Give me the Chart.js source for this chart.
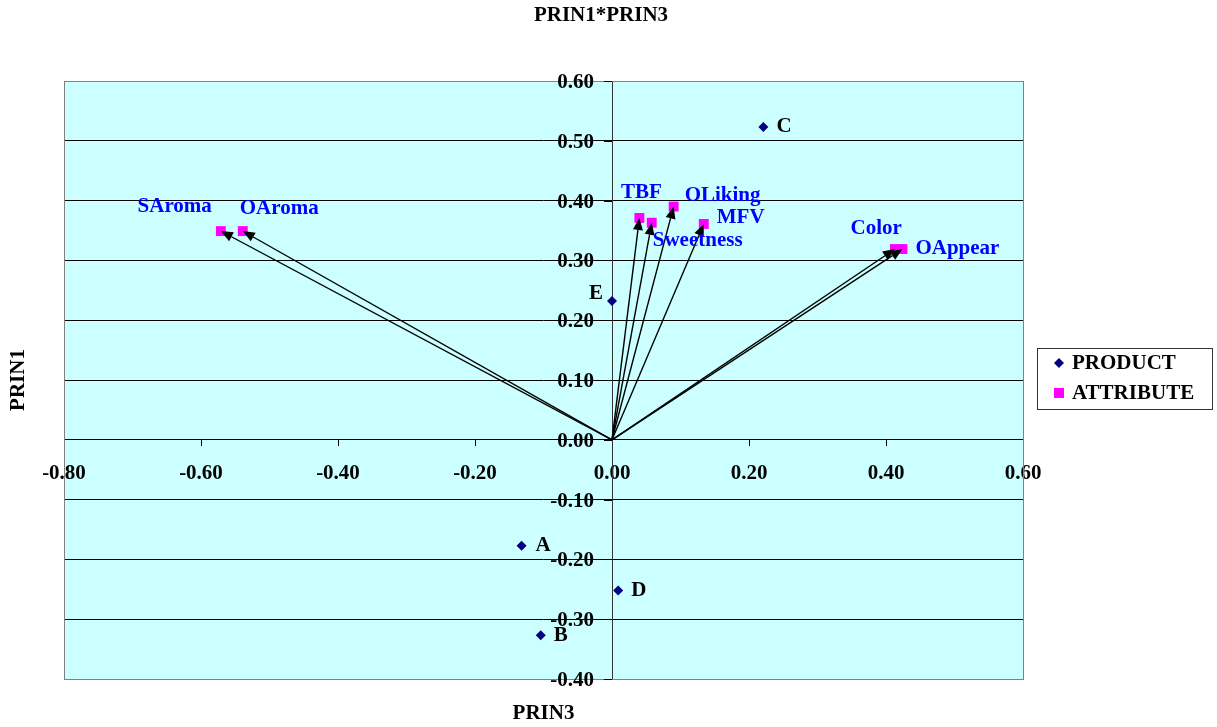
<!DOCTYPE html>
<html>
<head>
<meta charset="utf-8">
<title>PRIN1*PRIN3</title>
<script src="https://cdn.jsdelivr.net/npm/chart.js@4.4.1/dist/chart.umd.min.js"></script>
<style>
  html, body { margin: 0; padding: 0; background: #fff; }
  #wrap { position: relative; width: 1217px; height: 727px; }
</style>
</head>
<body>
<div id="wrap"><canvas id="biplot" width="1217" height="727"></canvas></div>
<script>
// --- Data ---
const productLabels = ['A', 'B', 'C', 'D', 'E'];
const productX = [-0.132, -0.104, 0.221, 0.009, 0.000];
const productY = [-0.177, -0.327, 0.523, -0.252, 0.232];

const attrLabels = ['SAroma', 'OAroma', 'TBF', 'Sweetness', 'OLiking', 'MFV', 'Color', 'OAppear'];
const attrX = [-0.571, -0.539, 0.040, 0.058, 0.090, 0.134, 0.413, 0.424];
const attrY = [0.349, 0.349, 0.371, 0.363, 0.390, 0.361, 0.319, 0.319];

const seriesNames = ['PRODUCT', 'ATTRIBUTE'];
const xTicks = [-0.8, -0.6, -0.4, -0.2, 0.0, 0.2, 0.4, 0.6];
const yTicks = [-0.4, -0.3, -0.2, -0.1, 0.0, 0.1, 0.2, 0.3, 0.4, 0.5, 0.6];

// --- Label placement (pixel offsets from the marker) ---
const labelPos = {
    A: { dx: 14, dy: 0, align: 'left' },
    B: { dx: 13, dy: 0, align: 'left' },
    C: { dx: 13, dy: 0, align: 'left' },
    D: { dx: 13, dy: 0, align: 'left' },
    E: { dx: -9, dy: -7, align: 'right' },
    SAroma: { dx: -9, dy: -25, align: 'right' },
    OAroma: { dx: -3, dy: -23, align: 'left' },
    TBF: { dx: 2, dy: -25, align: 'center' },
    Sweetness: { dx: 1, dy: 18, align: 'left' },
    OLiking: { dx: 11, dy: -11, align: 'left' },
    MFV: { dx: 13, dy: -6, align: 'left' },
    Color: { dx: 7, dy: -20, align: 'right' },
    OAppear: { dx: 13, dy: 0, align: 'left' }
};

const FONT = "'Liberation Serif', 'Times New Roman', serif";
const FONT_SIZE = 21;
const BOLD = 'bold ' + FONT_SIZE + 'px ' + FONT;
const PLOT_BG = '#ccffff';
const PRODUCT_COLOR = '#000080';
const ATTR_COLOR = '#ff00ff';
const ATTR_TEXT = '#0000ff';

function toPoints(xs, ys) {
    return xs.map((x, i) => ({ x: x, y: ys[i] }));
}

// --- Plugins ---
const plotBackground = {
    id: 'plotBackground',
    beforeDraw(chart) {
        const { ctx, chartArea: a } = chart;
        ctx.save();
        ctx.fillStyle = PLOT_BG;
        ctx.fillRect(a.left, a.top, a.right - a.left, a.bottom - a.top);
        ctx.restore();
    },
    afterDraw(chart) {
        const { ctx, chartArea: a } = chart;
        ctx.save();
        ctx.strokeStyle = '#808080';
        ctx.lineWidth = 1;
        ctx.strokeRect(Math.round(a.left) + 0.5, Math.round(a.top) + 0.5,
            Math.round(a.right - a.left), Math.round(a.bottom - a.top));
        ctx.restore();
    }
};

// y tick marks and labels sit left of the x = 0 axis
const yAxisLabels = {
    id: 'yAxisLabels',
    afterDraw(chart) {
        const { ctx, scales: { x, y } } = chart;
        const ox = Math.round(x.getPixelForValue(0));
        ctx.save();
        ctx.strokeStyle = '#000';
        ctx.lineWidth = 1;
        ctx.fillStyle = '#000';
        ctx.font = BOLD;
        ctx.textAlign = 'right';
        ctx.textBaseline = 'middle';
        y.ticks.forEach(t => {
            const py = Math.round(y.getPixelForValue(t.value)) + 0.5;
            ctx.beginPath();
            ctx.moveTo(ox - 8, py);
            ctx.lineTo(ox, py);
            ctx.stroke();
            ctx.fillText(t.value.toFixed(2), ox - 18, py + 1);
        });
        ctx.restore();
    }
};

const arrowsAndLabels = {
    id: 'arrowsAndLabels',
    afterDatasetsDraw(chart) {
        const { ctx, scales: { x, y } } = chart;
        const ox = x.getPixelForValue(0);
        const oy = y.getPixelForValue(0);
        ctx.save();

        // arrows from the origin to every attribute
        ctx.strokeStyle = '#000';
        ctx.fillStyle = '#000';
        ctx.lineWidth = 1.4;
        attrX.forEach((v, i) => {
            const px = x.getPixelForValue(v);
            const py = y.getPixelForValue(attrY[i]);
            const ang = Math.atan2(py - oy, px - ox);
            const len = 12, half = 5;
            const bx = px - len * Math.cos(ang);
            const by = py - len * Math.sin(ang);
            ctx.beginPath();
            ctx.moveTo(ox, oy);
            ctx.lineTo(bx, by);
            ctx.stroke();
            ctx.beginPath();
            ctx.moveTo(px, py);
            ctx.lineTo(bx + half * Math.sin(ang), by - half * Math.cos(ang));
            ctx.lineTo(bx - half * Math.sin(ang), by + half * Math.cos(ang));
            ctx.closePath();
            ctx.fill();
        });

        // point labels
        ctx.font = BOLD;
        ctx.textBaseline = 'middle';
        const drawLabel = (txt, vx, vy, color) => {
            const p = labelPos[txt];
            ctx.fillStyle = color;
            ctx.textAlign = p.align;
            ctx.fillText(txt, x.getPixelForValue(vx) + p.dx, y.getPixelForValue(vy) + p.dy);
        };
        productLabels.forEach((t, i) => drawLabel(t, productX[i], productY[i], '#000'));
        attrLabels.forEach((t, i) => drawLabel(t, attrX[i], attrY[i], ATTR_TEXT));
        ctx.restore();
    }
};

const titlesAndLegend = {
    id: 'titlesAndLegend',
    afterDraw(chart) {
        const { ctx, chartArea: a } = chart;
        ctx.save();
        ctx.fillStyle = '#000';
        ctx.font = BOLD;
        ctx.textAlign = 'center';
        ctx.textBaseline = 'middle';
        ctx.fillText('PRIN1*PRIN3', 601, 16);
        ctx.fillText('PRIN3', (a.left + a.right) / 2, 714);
        ctx.save();
        ctx.translate(19, (a.top + a.bottom) / 2);
        ctx.rotate(-Math.PI / 2);
        ctx.fillText('PRIN1', 0, 0);
        ctx.restore();

        // legend box
        ctx.strokeStyle = '#333';
        ctx.lineWidth = 1;
        ctx.strokeRect(1037.5, 348.5, 175, 61);
        ctx.textAlign = 'left';
        // diamond
        ctx.fillStyle = PRODUCT_COLOR;
        ctx.beginPath();
        ctx.moveTo(1059, 358);
        ctx.lineTo(1064, 363);
        ctx.lineTo(1059, 368);
        ctx.lineTo(1054, 363);
        ctx.closePath();
        ctx.fill();
        // square
        ctx.fillStyle = ATTR_COLOR;
        ctx.fillRect(1054, 388, 10, 10);
        ctx.fillStyle = '#000';
        ctx.fillText(seriesNames[0], 1072, 364);
        ctx.fillText(seriesNames[1], 1072, 394);
        ctx.restore();
    }
};

// --- Chart ---
const ctx = document.getElementById('biplot').getContext('2d');
new Chart(ctx, {
    type: 'scatter',
    data: {
        datasets: [{
            label: seriesNames[0],
            data: toPoints(productX, productY),
            pointStyle: 'rectRot',
            pointRadius: 5,
            pointHoverRadius: 5,
            backgroundColor: PRODUCT_COLOR,
            borderColor: PRODUCT_COLOR,
            borderWidth: 0
        }, {
            label: seriesNames[1],
            data: toPoints(attrX, attrY),
            pointStyle: 'rect',
            pointRadius: 7,
            pointHoverRadius: 7,
            backgroundColor: ATTR_COLOR,
            borderColor: ATTR_COLOR,
            borderWidth: 0
        }]
    },
    options: {
        responsive: false,
        animation: false,
        events: [],
        layout: { padding: { left: 64, right: 194, top: 81, bottom: 48 } },
        plugins: {
            legend: { display: false },
            title: { display: false },
            tooltip: { enabled: false }
        },
        scales: {
            x: {
                type: 'linear',
                min: xTicks[0],
                max: xTicks[xTicks.length - 1],
                position: { y: 0 },
                afterFit: s => { s.height = 0; },
                afterBuildTicks: s => { s.ticks = xTicks.map(v => ({ value: v })); },
                ticks: {
                    color: '#000',
                    font: { family: FONT, size: FONT_SIZE, weight: 'bold' },
                    padding: 15,
                    maxRotation: 0,
                    autoSkip: false,
                    callback: v => v.toFixed(2)
                },
                grid: { drawOnChartArea: false, drawTicks: true, tickLength: 6, color: '#000' },
                border: { color: '#000' }
            },
            y: {
                type: 'linear',
                min: yTicks[0],
                max: yTicks[yTicks.length - 1],
                position: { x: 0 },
                afterFit: s => { s.width = 0; },
                afterBuildTicks: s => { s.ticks = yTicks.map(v => ({ value: v })); },
                ticks: { display: false },
                grid: { drawOnChartArea: true, drawTicks: false, color: '#000' },
                border: { color: '#333' }
            }
        }
    },
    plugins: [plotBackground, arrowsAndLabels, yAxisLabels, titlesAndLegend]
});
</script>
</body>
</html>
